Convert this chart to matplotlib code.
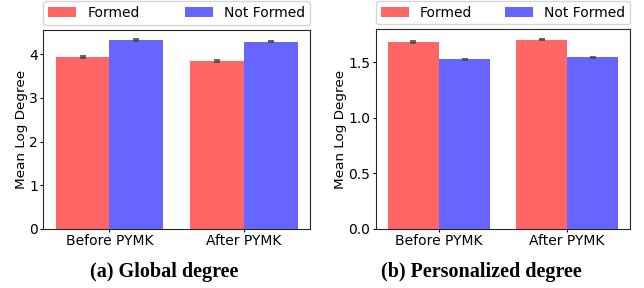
"""Mean log degree before/after PYMK, formed vs not formed edges."""

import matplotlib
matplotlib.use('Agg')
import matplotlib.pyplot as plt
import numpy as np

# Data
periods = ['Before PYMK', 'After PYMK']
series = ['Formed', 'Not Formed']

global_formed = [3.94, 3.85]
global_not_formed = [4.33, 4.29]
global_err = [0.015, 0.015]

personal_formed = [1.68, 1.705]
personal_not_formed = [1.525, 1.545]
personal_err = [0.008, 0.006]

captions = ['(a) Global degree', '(b) Personalized degree']

colors = ['#ff6666', '#6666ff']
fs = 10

fig = plt.figure(figsize=(6.44, 2.88), dpi=100)
ax1 = fig.add_axes([0.0675, 0.206, 0.414, 0.690])
ax2 = fig.add_axes([0.5839, 0.206, 0.3944, 0.692])

x = np.arange(len(periods))
width = 0.4

for ax, formed, not_formed, err in [(ax1, global_formed, global_not_formed, global_err),
                                    (ax2, personal_formed, personal_not_formed, personal_err)]:
    ax.bar(x - width / 2, formed, width, color=colors[0], label=series[0],
           yerr=err, error_kw=dict(ecolor='0.3', elinewidth=2, capsize=2, capthick=1.2))
    ax.bar(x + width / 2, not_formed, width, color=colors[1], label=series[1],
           yerr=err, error_kw=dict(ecolor='0.3', elinewidth=2, capsize=2, capthick=1.2))
    ax.set_xticks(x)
    ax.set_xticklabels(periods, fontsize=fs)
    ax.tick_params(axis='both', labelsize=fs, length=2.5)
    ax.tick_params(axis='y', pad=1.5)
    ax.tick_params(axis='x', pad=1.2)
    ax.set_ylabel('Mean Log Degree', fontsize=9.7, labelpad=1)
    for sp in ax.spines.values():
        sp.set_color('0.15')
    ax.legend(loc='lower left', bbox_to_anchor=(0, 1.025, 1, 0.2), mode='expand',
              ncol=2, fontsize=fs, borderaxespad=0, handlelength=2.0,
              borderpad=0.35, handleheight=0.75)

ax1.set_yticks([0, 1, 2, 3, 4])
ax2.set_yticks([0.0, 0.5, 1.0, 1.5])

fig.text(0.255, 0.057, captions[0], ha='center', va='center',
         family='Liberation Serif', weight='bold', fontsize=14.5)
fig.text(0.748, 0.057, captions[1], ha='center', va='center',
         family='Liberation Serif', weight='bold', fontsize=14.5)

plt.savefig('out.png', dpi=100)
plt.close()
